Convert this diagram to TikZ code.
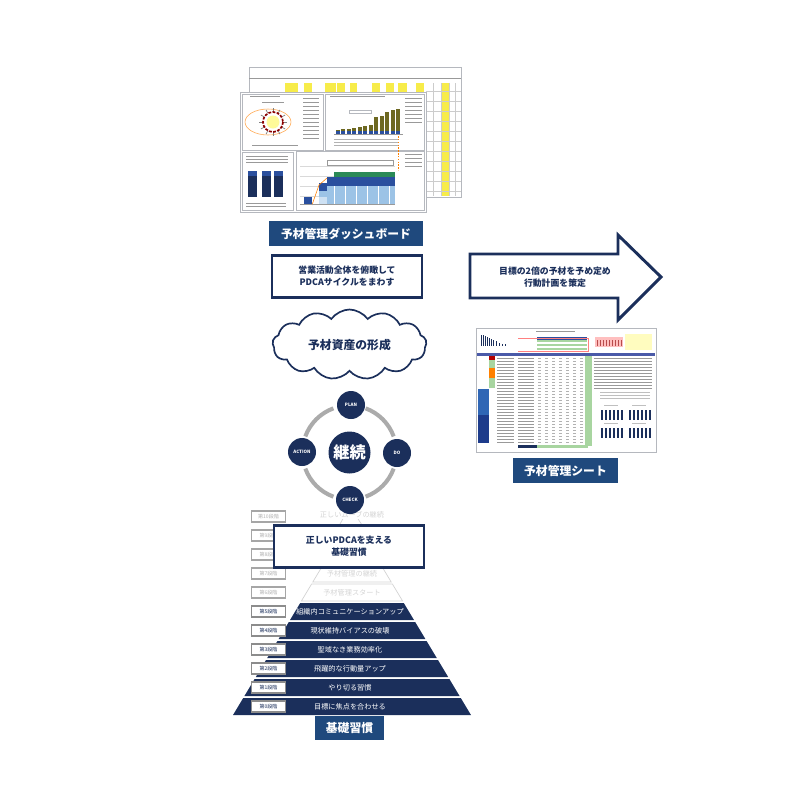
\documentclass[tikz,border=0pt]{standalone}
\usepackage{fontspec}
\setmainfont{Noto Sans CJK JP}
\usetikzlibrary{shapes.symbols}
\definecolor{navy}{HTML}{1B2F5B}
\definecolor{titleblue}{HTML}{1F497D}
\definecolor{ringgray}{HTML}{ABABAB}
\definecolor{fadegray}{HTML}{D4D4D4}
\definecolor{sheetline}{HTML}{B5B8BE}
\definecolor{markyellow}{HTML}{F7EC4A}
\definecolor{paleblue}{HTML}{9CC3E6}
\definecolor{midblue}{HTML}{2A4F9E}
\definecolor{deepblue}{HTML}{1D3B8B}
\definecolor{brightblue}{HTML}{2F66B5}
\definecolor{chartgreen}{HTML}{2B8A57}
\definecolor{sheetgreen}{HTML}{A8D5A0}
\definecolor{sheetbar}{HTML}{4A5AA8}
\tikzset{
  titlebox/.style={fill=titleblue,text=white,font=\fontsize{8.4}{10}\selectfont\bfseries,inner sep=0pt,anchor=center},
  framebox/.style={draw=navy,line width=2.1pt,fill=white,text=navy,font=\fontsize{6.3}{8.6}\selectfont\bfseries,align=center,inner sep=0pt},
  cyclenode/.style={circle,fill=navy,text=white,font=\fontsize{3.2}{4}\selectfont\bfseries,minimum size=0.7cm,inner sep=0pt},
  stagebox/.style={draw=#1,line width=0.9pt,fill=white,font=\fontsize{3.6}{4}\selectfont,minimum width=0.86cm,minimum height=0.27cm,inner sep=0pt},
  layertext/.style={text=white,font=\fontsize{5.1}{6}\selectfont,inner sep=0pt},
  fadetext/.style={text=fadegray,font=\fontsize{5.1}{6}\selectfont,inner sep=0pt},
  panel/.style={draw=sheetline,fill=white,line width=0.3pt},
  tinyline/.style={black!40,line width=0.25pt},
}
\begin{document}
\begin{tikzpicture}[x=0.25mm,y=-0.25mm]
\useasboundingbox (0,0) rectangle (800,800);
% back sheet of the dashboard
\draw[sheetline,fill=white,line width=0.6pt] (249,67) rectangle (461,197);
\foreach \x/\w in {285/13,304/8,325/11,337/8,350/7,372/8,386/8,398/9,416/8} \fill[markyellow] (\x,82.5) rectangle +(\w,9);
\fill[markyellow] (441,83) rectangle (449,196);
\foreach \y in {91,101,...,191} \draw[tinyline,black!20] (426,\y) -- (461,\y);
\foreach \x in {433,441,449,455} \draw[tinyline,black!20] (\x,83) -- (\x,196);
\draw[tinyline] (249,78) -- (461,78);
% front sheet
\draw[sheetline,fill=white,line width=0.6pt] (240,92) rectangle (426,212);
\draw[panel] (242,94) rectangle (323,150);
\draw[panel] (325,94) rectangle (424,150);
\draw[panel] (242,152) rectangle (293,210);
\draw[panel] (296,151) rectangle (424,210);
% ring chart
\draw[orange!70,line width=0.4pt] (268,122) ellipse (23 and 13);
\foreach \a in {0,30,...,330} \draw[black!50,line width=0.5pt] (273,122) ++(\a:10) -- ++(\a:4);
\draw[red!55!black,line width=1.2pt,dash pattern=on 2pt off 1pt] (273,122) circle (10);
\fill[yellow!40] (273,122) circle (6.5);
\draw[tinyline] (250,96) -- (280,96);
\draw[tinyline] (262,102) -- (284,102);
\draw[tinyline] (252,145) -- (298,145);
\foreach \y in {98,102,...,138} \draw[tinyline] (303,\y) -- (319,\y);
\draw[tinyline] (330,96) -- (385,96);
\foreach \y in {98,102,...,122} \draw[tinyline] (405,\y) -- (422,\y);
\foreach \y in {154,158,...,166} \draw[tinyline] (405,\y) -- (422,\y);
\draw[orange,line width=0.3pt,dash pattern=on 1pt off 1pt] (398,125) -- (398,170);
% olive bars
\foreach \x/\h in {336/4,341.5/5,347/5,352.5/6,358/7,363.5/8,369/9,374.5/17,380/18,385.5/22,391/24,396.5/25} {
  \fill[olive!70!black] (\x-0.5,134-\h) rectangle +(4.2,\h);
  \fill[midblue] (\x-0.5,131) rectangle +(4.2,3);
}
\draw[tinyline] (334,134) -- (403,134);
\foreach \y in {139,142,145} \draw[tinyline,black!30] (334,\y) -- (398,\y);
\node[draw=sheetline,line width=0.2pt,minimum width=0.55cm,minimum height=0.08cm,inner sep=0pt] (barcaption) at (360,112) {};
% three dark bars
\foreach \x in {248,262,274} {
  \fill[navy] (\x,176) rectangle +(9,21);
  \fill[midblue] (\x,171) rectangle +(9,5);
}
\foreach \y in {156,159,162} \draw[tinyline] (246,\y) -- (288,\y);
\foreach \y in {203,206} \draw[tinyline] (246,\y) -- (286,\y);
% stacked step chart
\foreach \y in {166,176,...,196} \draw[tinyline,black!15] (300,\y) -- (395,\y);
\draw[tinyline] (327,160) rectangle (393,165);
\fill[midblue] (304,197) rectangle (312,204);
\fill[paleblue!50] (319,197) rectangle (327,204);
\fill[paleblue] (319,191) rectangle (327,197);
\fill[midblue] (319,183) rectangle (327,191);
\fill[paleblue] (327,186) rectangle (395,204);
\fill[midblue] (327,177) rectangle (395,186);
\fill[chartgreen] (334,172) rectangle (395,177);
\foreach \x in {334,345,...,389} \draw[white,line width=0.2pt] (\x,186) -- (\x,204);
\draw[orange,line width=0.4pt] (312,205) -- (319,185) -- (327,178);
\draw[tinyline] (300,204) -- (395,204);
\node[titlebox,minimum width=3.85cm,minimum height=0.625cm] (dashtitle) at (346,233.5) {予材管理ダッシュボード};
% boxes and arrow
\node[framebox,minimum width=3.75cm,minimum height=1.07cm] (overview) at (347,276.5) {営業活動全体を俯瞰して\\PDCAサイクルをまわす};
\draw[navy,line width=2.1pt,fill=white,line join=miter] (470,254) -- (618,254) -- (618,235) -- (661,277) -- (618,320) -- (618,298) -- (470,298) -- cycle;
\node[text=navy,font=\fontsize{6.3}{8.6}\selectfont\bfseries,align=center,inner sep=0pt] (goaltext) at (555,277) {目標の2倍の予材を予め定め\\行動計画を策定};
\node[cloud,cloud puffs=13,cloud puff arc=110,aspect=2.2,draw=navy,line width=1.2pt,fill=white,text=navy,font=\fontsize{8.4}{10}\selectfont\bfseries,minimum width=3.85cm,minimum height=1.75cm,inner sep=0pt] (assets) at (349.5,344.5) {予材資産の形成};
% management sheet
\draw[sheetline,fill=white,line width=0.4pt] (476,328) rectangle (656,452);
\foreach \x/\h in {481/11,483/11,485/10,487/9,489/8,491/7,493/6,496/5,499/3,502/2,505/2} \fill[navy] (\x,346-\h) rectangle +(1.4,\h);
\fill[midblue] (537,337) rectangle (587,339.5);
\foreach \y in {341,345,349} \draw[sheetgreen,line width=0.8pt] (537,\y) -- (587,\y);
\draw[red!50,line width=0.3pt] (518,338) -- (588,338) -- (588,351) -- (518,351);
\draw[tinyline] (536,331) -- (575,331);
\fill[red!25] (595,337) rectangle (623,347);
\foreach \x in {597,600,...,621} \fill[red!60!black!70] (\x,340) rectangle +(1,6);
\fill[yellow!25] (625,334) rectangle (652,350);
\fill[sheetbar] (477,352.5) rectangle (655,356);
\fill[sheetgreen] (585,356) rectangle (592,446);
\fill[sheetgreen] (489,356) rectangle (495,388);
\fill[orange] (489,368) rectangle (495,378);
\fill[red!70!black] (489,356) rectangle (495,360);
\fill[brightblue] (478,389) rectangle (489,415);
\fill[deepblue] (478,415) rectangle (489,443);
\foreach \y in {358,361,...,443} {
  \draw[tinyline] (497,\y) -- (514,\y);
  \draw[tinyline] (518,\y) -- (534,\y);
  \draw[tinyline,black!30,dash pattern=on 2pt off 3pt] (538,\y) -- (584,\y);
}
\foreach \y in {358,361,...,388} \draw[tinyline] (594,\y) -- (652,\y);
\foreach \y in {392,395,398} \draw[tinyline,black!25] (600,\y) -- (650,\y);
\fill[navy] (518,445) rectangle (537,448);
\fill[sheetgreen] (537,445) rectangle (588,448);
\foreach \x/\y in {600/420,628/420,600/438,628/438} {
  \draw[tinyline,black!25] (\x+4,\y-15) -- +(14,0);
  \foreach \k in {1,5,...,21} \fill[navy] (\x+\k,\y-10) rectangle +(1.8,10);
}
\node[titlebox,minimum width=2.625cm,minimum height=0.625cm] (sheettitle) at (565.5,470.5) {予材管理シート};
% pyramid lower layers and faded upper layers
\foreach \yc/\txt in {592.5/予材管理スタート,573.5/予材管理の継続} {
  \pgfmathsetmacro{\hwt}{119-(715-(\yc-8.5))*0.6}
  \pgfmathsetmacro{\hwb}{119-(715-(\yc+8.5))*0.6}
  \draw[fadegray,line width=0.5pt] (352-\hwt,\yc-8.5) -- (352+\hwt,\yc-8.5) -- (352+\hwb,\yc+8.5) -- (352-\hwb,\yc+8.5) -- cycle;
  \node[fadetext] at (352,\yc) {\txt};
}
\draw[fadegray,line width=0.5pt] (322,556) -- (349,508);
\draw[fadegray,line width=0.5pt] (382,556) -- (351,508);
\node[fadetext,fill=white,inner sep=0.5pt] (topstage) at (352,515) {正しいムーブの継続};
\foreach \n/\yc/\txt in {5/611.5/組織内コミュニケーションアップ,4/630.5/現状維持バイアスの破壊,3/649.5/聖域なき業務効率化,2/668.5/飛躍的な行動量アップ,1/687.5/やり切る習慣,0/706.5/目標に焦点を合わせる} {
  \pgfmathsetmacro{\hwt}{119-(715-(\yc-8.5))*0.6}
  \pgfmathsetmacro{\hwb}{119-(715-(\yc+8.5))*0.6}
  \fill[navy] (352-\hwt,\yc-8.5) -- (352+\hwt,\yc-8.5) -- (352+\hwb,\yc+8.5) -- (352-\hwb,\yc+8.5) -- cycle;
  \node[layertext] (layer\n) at (350,\yc) {\txt};
  \node[stagebox=black!45,text=navy] (stage\n) at (268.5,\yc) {第\n 段階};
}
\foreach \n/\yc in {6/592.5,7/573.5,8/554.5,9/535.5,10/516.5}
  \node[stagebox=black!35,text=black!30] (stage\n) at (268.5,\yc) {第\n 段階};
\node[framebox,minimum width=3.75cm,minimum height=1.07cm] (habitbox) at (349,546.5) {正しいPDCAを支える\\基礎習慣};
\node[titlebox,minimum width=1.725cm,minimum height=0.6cm] (habittitle) at (349.5,728) {基礎習慣};
% cycle
\foreach \a in {0,90,180,270}
  \draw[ringgray,line width=2.9pt] (349.5,452.5) ++(\a+20:47) arc (\a+20:\a+70:47);
\node[circle,fill=navy,text=white,font=\fontsize{11.5}{13}\selectfont\bfseries,minimum size=1.05cm,inner sep=0pt] (keep) at (349.5,452.5) {継続};
\node[cyclenode] (plan) at (351,405) {PLAN};
\node[cyclenode] (do) at (397,453) {DO};
\node[cyclenode] (check) at (350,500) {CHECK};
\node[cyclenode] (action) at (302,452) {ACTION};
\end{tikzpicture}
\end{document}
